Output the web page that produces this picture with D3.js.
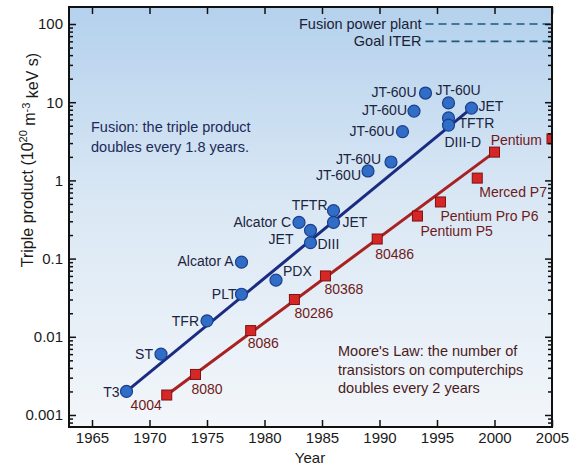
<!DOCTYPE html>
<html>
<head>
<meta charset="utf-8">
<script src="https://cdn.jsdelivr.net/npm/d3@7"></script>
<style>
  html, body { margin: 0; padding: 0; background: #ffffff; }
  svg { display: block; font-family: "Liberation Sans", Arial, sans-serif; }
</style>
</head>
<body>
<svg id="chart" width="585" height="469"></svg>
<script>
// Fusion experiments: year, triple product (10^20 m^-3 keV s)
const fusionNames  = ["T3", "ST", "TFR", "PLT", "Alcator A", "PDX", "Alcator C", "JET", "DIII", "TFTR", "JET",
                      "JT-60U", "JT-60U", "JT-60U", "JT-60U", "JT-60U", "JT-60U", "TFTR", "DIII-D", "JET"];
const fusionYears  = [1968, 1971, 1975, 1978, 1978, 1981, 1983, 1984, 1984, 1986, 1986,
                      1989, 1991, 1992, 1993, 1994, 1996, 1996, 1996, 1998];
const fusionValues = [0.002, 0.006, 0.016, 0.035, 0.09, 0.053, 0.29, 0.23, 0.16, 0.41, 0.29,
                      1.32, 1.72, 4.2, 7.7, 13.1, 9.8, 6.3, 5.1, 8.4];

// Intel processors, plotted on the same axis
const chipNames  = ["4004", "8080", "8086", "80286", "80368", "80486", "Pentium P5", "Pentium Pro P6", "Merced P7", "", "Pentium"];
const chipYears  = [1971.5, 1974, 1978.8, 1982.6, 1985.3, 1989.8, 1993.3, 1995.3, 1998.5, 2000, 2005];
const chipValues = [0.0018, 0.0033, 0.012, 0.030, 0.060, 0.178, 0.35, 0.53, 1.07, 2.3, 3.4];

// Trend lines
const fusionTrendYears  = [1968, 1998];
const fusionTrendValues = [0.002, 8.4];
const mooreTrendYears   = [1971.5, 2000];
const mooreTrendValues  = [0.0018, 2.3];

// Target levels
const goalNames  = ["Fusion power plant", "Goal ITER"];
const goalValues = [100, 60];
const goalStartYear = 1994;

// Axes
const xTickValues = [1965, 1970, 1975, 1980, 1985, 1990, 1995, 2000, 2005];
const yTickValues = [0.001, 0.01, 0.1, 1, 10, 100];
const yTickLabels = ["0.001", "0.01", "0.1", "1", "10", "100"];

const fusionNote = ["Fusion: the triple product", "doubles every 1.8 years."];
const mooreNote  = ["Moore's Law: the number of", "transistors on computerchips", "doubles every 2 years"];

// ---- layout ----
const plotL = 69, plotR = 552, plotT = 7, plotB = 427;
const svg = d3.select("#chart");

const x = d3.scaleLinear().domain([1963, 2005]).range([plotL, plotR]);
const y = d3.scaleLog().domain([0.000702, 165]).range([plotB, plotT]);

// label placement: [anchor, dx, dy]
const fusionLabelPos = [
  ["end", -7, 1], ["end", -8, 0], ["end", -8, 0], ["end", -5, 0], ["end", -8, -1],
  ["start", 7, -9], ["end", -8, 0], ["end", -17, 9], ["start", 7, 1], ["end", -6, -6],
  ["start", 9, 0], ["end", -7, 4], ["end", -10, -3], ["end", -8, -1], ["end", -7, -1],
  ["end", -9, -1], ["start", -13, -13], ["start", 10, 5], ["start", -4, 17], ["start", 7, -2]
];
const chipLabelPos = [
  ["end", -5, 10], ["start", -4, 15], ["start", -3, 13], ["start", 0, 14], ["start", -1, 13],
  ["start", -2, 15], ["start", 3, 15], ["start", 0, 14], ["start", 2, 14], ["start", 0, 0], ["end", -10, 1]
];

// ---- background ----
const defs = svg.append("defs");
const grad = defs.append("linearGradient").attr("id", "bg").attr("x1", 0).attr("y1", 0).attr("x2", 0).attr("y2", 1);
grad.append("stop").attr("offset", "0%").attr("stop-color", "#b4d1ed");
grad.append("stop").attr("offset", "45%").attr("stop-color", "#d9e7f4");
grad.append("stop").attr("offset", "100%").attr("stop-color", "#f3f6fa");
defs.append("clipPath").attr("id", "plotClip")
  .append("rect").attr("x", plotL).attr("y", plotT).attr("width", plotR - plotL).attr("height", plotB - plotT);

svg.append("rect").attr("x", plotL).attr("y", plotT).attr("width", plotR - plotL).attr("height", plotB - plotT)
  .attr("fill", "url(#bg)");

const plot = svg.append("g").attr("clip-path", "url(#plotClip)");

// ---- goal lines ----
goalValues.forEach((v, i) => {
  plot.append("line")
    .attr("x1", x(goalStartYear)).attr("x2", plotR)
    .attr("y1", y(v)).attr("y2", y(v))
    .attr("stroke", "#1d5a7c").attr("stroke-width", 1.6).attr("stroke-dasharray", "8,5");
  svg.append("text")
    .attr("x", x(goalStartYear) - 4).attr("y", y(v))
    .attr("dy", "0.35em").attr("text-anchor", "end")
    .attr("font-size", 14.5).attr("fill", "#1a2233")
    .text(goalNames[i]);
});

// ---- trend lines ----
const line = d3.line().x(d => x(d[0])).y(d => y(d[1]));
plot.append("path")
  .datum(mooreTrendYears.map((yr, i) => [yr, mooreTrendValues[i]]))
  .attr("d", line).attr("fill", "none").attr("stroke", "#a82222").attr("stroke-width", 3);
plot.append("path")
  .datum(fusionTrendYears.map((yr, i) => [yr, fusionTrendValues[i]]))
  .attr("d", line).attr("fill", "none").attr("stroke", "#1a2b82").attr("stroke-width", 3);

// ---- chip markers ----
const sq = 10;
plot.selectAll("rect.chip")
  .data(chipYears.map((yr, i) => ({ yr, v: chipValues[i] })))
  .enter().append("rect").attr("class", "chip")
  .attr("x", d => x(d.yr) - sq / 2).attr("y", d => y(d.v) - sq / 2)
  .attr("width", sq).attr("height", sq)
  .attr("fill", "#d62626").attr("stroke", "#7c1212").attr("stroke-width", 1);

// ---- fusion markers ----
plot.selectAll("circle.fusion")
  .data(fusionYears.map((yr, i) => ({ yr, v: fusionValues[i] })))
  .enter().append("circle").attr("class", "fusion")
  .attr("cx", d => x(d.yr)).attr("cy", d => y(d.v)).attr("r", 6)
  .attr("fill", "#2f6dc6").attr("stroke", "#1b3f8c").attr("stroke-width", 1.2);

// ---- labels ----
fusionNames.forEach((name, i) => {
  const p = fusionLabelPos[i];
  svg.append("text")
    .attr("x", x(fusionYears[i]) + p[1]).attr("y", y(fusionValues[i]) + p[2])
    .attr("dy", "0.35em").attr("text-anchor", p[0])
    .attr("font-size", 14).attr("fill", "#1b2440")
    .text(name);
});
chipNames.forEach((name, i) => {
  if (!name) return;
  const p = chipLabelPos[i];
  const px = Math.min(x(chipYears[i]), plotR);
  svg.append("text")
    .attr("x", px + p[1]).attr("y", y(chipValues[i]) + p[2])
    .attr("dy", "0.35em").attr("text-anchor", p[0])
    .attr("font-size", 14).attr("fill", "#6e1a1a")
    .text(name);
});

// ---- notes ----
svg.append("text").attr("x", 91).attr("y", 127).attr("font-size", 14.5).attr("fill", "#1c2a58")
  .selectAll("tspan").data(fusionNote).enter().append("tspan")
  .attr("x", 91).attr("dy", (d, i) => i === 0 ? "0.35em" : "1.38em").text(d => d);
svg.append("text").attr("x", 338).attr("y", 351).attr("font-size", 14.5).attr("fill", "#4a1b1b")
  .selectAll("tspan").data(mooreNote).enter().append("tspan")
  .attr("x", 338).attr("dy", (d, i) => i === 0 ? "0.35em" : "1.28em").text(d => d);

// ---- axes ----
const axisColor = "#111";
const minorTicks = [];
for (let e = -4; e <= 2; e++) {
  for (let m = 2; m <= 9; m++) {
    const v = m * Math.pow(10, e);
    if (v > y.domain()[0] && v < y.domain()[1]) minorTicks.push(v);
  }
}

function styleAxis(g) {
  g.select(".domain").remove();
  g.selectAll(".tick line").attr("stroke", axisColor).attr("stroke-width", 1.5);
  g.selectAll(".tick text").attr("fill", "#1a1a1a").attr("font-size", 15)
    .attr("font-family", "Liberation Sans, Arial, sans-serif");
}

// left: major + minor ticks pointing inward
svg.append("g").attr("transform", `translate(${plotL},0)`)
  .call(d3.axisRight(y).tickValues(yTickValues).tickFormat((d, i) => yTickLabels[i]).tickSize(7))
  .call(g => { styleAxis(g); g.selectAll(".tick text").attr("text-anchor", "end").attr("x", -6); });
svg.append("g").attr("transform", `translate(${plotL},0)`)
  .call(d3.axisRight(y).tickValues(minorTicks).tickFormat("").tickSize(4)).call(styleAxis);
// right
svg.append("g").attr("transform", `translate(${plotR},0)`)
  .call(d3.axisLeft(y).tickValues(yTickValues).tickFormat("").tickSize(7)).call(styleAxis);
svg.append("g").attr("transform", `translate(${plotR},0)`)
  .call(d3.axisLeft(y).tickValues(minorTicks).tickFormat("").tickSize(4)).call(styleAxis);
// bottom
svg.append("g").attr("transform", `translate(0,${plotB})`)
  .call(d3.axisTop(x).tickValues(xTickValues).tickFormat(d3.format("d")).tickSize(7))
  .call(g => { styleAxis(g); g.selectAll(".tick text").attr("y", 5).attr("dy", "0.71em"); });
// top
svg.append("g").attr("transform", `translate(0,${plotT})`)
  .call(d3.axisBottom(x).tickValues(xTickValues).tickFormat("").tickSize(7)).call(styleAxis);

// frame
svg.append("rect").attr("x", plotL).attr("y", plotT).attr("width", plotR - plotL).attr("height", plotB - plotT)
  .attr("fill", "none").attr("stroke", axisColor).attr("stroke-width", 2);

// axis titles
svg.append("text").attr("x", 310).attr("y", 458).attr("dy", "0.35em").attr("text-anchor", "middle")
  .attr("font-size", 15).attr("fill", "#1a1a1a").text("Year");

const yTitle = svg.append("text")
  .attr("transform", "translate(27,160) rotate(-90)")
  .attr("text-anchor", "middle").attr("dy", "0.35em")
  .attr("font-size", 16).attr("fill", "#1a1a1a");
yTitle.append("tspan").text("Triple product (10");
yTitle.append("tspan").attr("font-size", 11).attr("dy", "-0.5em").text("20");
yTitle.append("tspan").attr("dy", "0.5em").text(" m");
yTitle.append("tspan").attr("font-size", 11).attr("dy", "-0.5em").text("-3");
yTitle.append("tspan").attr("dy", "0.5em").text(" keV s)");
</script>
</body>
</html>
